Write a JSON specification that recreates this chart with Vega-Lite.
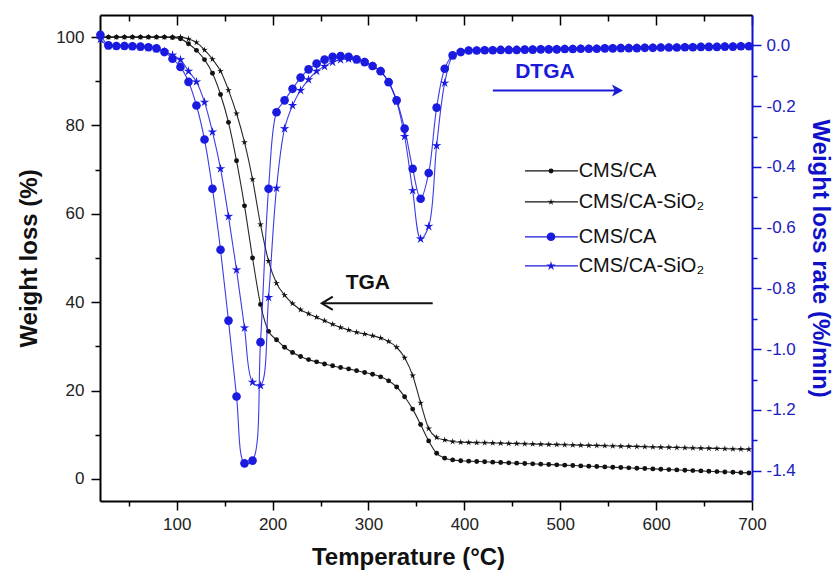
{
  "$schema": "https://vega.github.io/schema/vega-lite/v6.json",
  "width": 652,
  "height": 486,
  "autosize": {"type": "none"},
  "padding": {"left": 100, "top": 15, "right": 85, "bottom": 72},
  "background": "white",
  "config": {
    "font": "Liberation Sans",
    "view": {"stroke": null},
    "axis": {"labelFont": "Liberation Sans", "titleFont": "Liberation Sans", "grid": false, "labelOverlap": false, "labelFlush": false}
  },
  "datasets": {
    "tga": [
      {"k":"TGA|CMS/CA","T":20.4,"v":100},{"k":"TGA|CMS/CA","T":28.8,"v":100},{"k":"TGA|CMS/CA","T":37.1,"v":100},{"k":"TGA|CMS/CA","T":45.5,"v":100},{"k":"TGA|CMS/CA","T":53.8,"v":100},{"k":"TGA|CMS/CA","T":62.2,"v":100},{"k":"TGA|CMS/CA","T":70.5,"v":100},{"k":"TGA|CMS/CA","T":78.9,"v":100},{"k":"TGA|CMS/CA","T":87.2,"v":100},{"k":"TGA|CMS/CA","T":95.6,"v":99.9},
      {"k":"TGA|CMS/CA","T":103.9,"v":99.6},{"k":"TGA|CMS/CA","T":112.3,"v":98.5},{"k":"TGA|CMS/CA","T":120.6,"v":97.0},{"k":"TGA|CMS/CA","T":129,"v":94.9},{"k":"TGA|CMS/CA","T":137.3,"v":91.8},{"k":"TGA|CMS/CA","T":145.7,"v":87.0},{"k":"TGA|CMS/CA","T":154,"v":80.7},{"k":"TGA|CMS/CA","T":162.4,"v":72.0},{"k":"TGA|CMS/CA","T":170.7,"v":61.8},{"k":"TGA|CMS/CA","T":179.1,"v":50.0},
      {"k":"TGA|CMS/CA","T":187.4,"v":39.5},{"k":"TGA|CMS/CA","T":195.8,"v":33.4},{"k":"TGA|CMS/CA","T":204.1,"v":31.5},{"k":"TGA|CMS/CA","T":212.5,"v":29.8},{"k":"TGA|CMS/CA","T":220.8,"v":28.6},{"k":"TGA|CMS/CA","T":229.2,"v":27.7},{"k":"TGA|CMS/CA","T":237.5,"v":27.0},{"k":"TGA|CMS/CA","T":245.9,"v":26.5},{"k":"TGA|CMS/CA","T":254.2,"v":26.0},{"k":"TGA|CMS/CA","T":262.6,"v":25.6},
      {"k":"TGA|CMS/CA","T":270.9,"v":25.2},{"k":"TGA|CMS/CA","T":279.3,"v":24.9},{"k":"TGA|CMS/CA","T":287.6,"v":24.5},{"k":"TGA|CMS/CA","T":296,"v":24.1},{"k":"TGA|CMS/CA","T":304.3,"v":23.7},{"k":"TGA|CMS/CA","T":312.7,"v":23.1},{"k":"TGA|CMS/CA","T":321,"v":22.2},{"k":"TGA|CMS/CA","T":329.4,"v":20.8},{"k":"TGA|CMS/CA","T":337.7,"v":18.6},{"k":"TGA|CMS/CA","T":346.1,"v":15.8},
      {"k":"TGA|CMS/CA","T":354.4,"v":12.3},{"k":"TGA|CMS/CA","T":362.8,"v":8.6},{"k":"TGA|CMS/CA","T":371.1,"v":5.8},{"k":"TGA|CMS/CA","T":379.5,"v":4.7},{"k":"TGA|CMS/CA","T":387.8,"v":4.3},{"k":"TGA|CMS/CA","T":396.2,"v":4.1},{"k":"TGA|CMS/CA","T":404.5,"v":4.02},{"k":"TGA|CMS/CA","T":412.9,"v":3.95},{"k":"TGA|CMS/CA","T":421.2,"v":3.87},{"k":"TGA|CMS/CA","T":429.6,"v":3.79},
      {"k":"TGA|CMS/CA","T":437.9,"v":3.72},{"k":"TGA|CMS/CA","T":446.3,"v":3.64},{"k":"TGA|CMS/CA","T":454.6,"v":3.57},{"k":"TGA|CMS/CA","T":463,"v":3.49},{"k":"TGA|CMS/CA","T":471.3,"v":3.41},{"k":"TGA|CMS/CA","T":479.7,"v":3.34},{"k":"TGA|CMS/CA","T":488,"v":3.26},{"k":"TGA|CMS/CA","T":496.4,"v":3.18},{"k":"TGA|CMS/CA","T":504.7,"v":3.11},{"k":"TGA|CMS/CA","T":513.1,"v":3.03},
      {"k":"TGA|CMS/CA","T":521.4,"v":2.95},{"k":"TGA|CMS/CA","T":529.8,"v":2.88},{"k":"TGA|CMS/CA","T":538.1,"v":2.80},{"k":"TGA|CMS/CA","T":546.5,"v":2.72},{"k":"TGA|CMS/CA","T":554.8,"v":2.65},{"k":"TGA|CMS/CA","T":563.2,"v":2.57},{"k":"TGA|CMS/CA","T":571.5,"v":2.50},{"k":"TGA|CMS/CA","T":579.9,"v":2.42},{"k":"TGA|CMS/CA","T":588.2,"v":2.34},{"k":"TGA|CMS/CA","T":596.6,"v":2.27},
      {"k":"TGA|CMS/CA","T":604.9,"v":2.19},{"k":"TGA|CMS/CA","T":613.3,"v":2.11},{"k":"TGA|CMS/CA","T":621.6,"v":2.04},{"k":"TGA|CMS/CA","T":630,"v":1.96},{"k":"TGA|CMS/CA","T":638.3,"v":1.88},{"k":"TGA|CMS/CA","T":646.7,"v":1.81},{"k":"TGA|CMS/CA","T":655,"v":1.73},{"k":"TGA|CMS/CA","T":663.4,"v":1.65},{"k":"TGA|CMS/CA","T":671.7,"v":1.58},{"k":"TGA|CMS/CA","T":680.1,"v":1.50},
      {"k":"TGA|CMS/CA","T":688.4,"v":1.42},{"k":"TGA|CMS/CA","T":696.8,"v":1.35},
      {"k":"TGA|CMS/CA-SiO₂","T":20.4,"v":100},{"k":"TGA|CMS/CA-SiO₂","T":28.8,"v":100},{"k":"TGA|CMS/CA-SiO₂","T":37.1,"v":100},{"k":"TGA|CMS/CA-SiO₂","T":45.5,"v":100},{"k":"TGA|CMS/CA-SiO₂","T":53.8,"v":100},{"k":"TGA|CMS/CA-SiO₂","T":62.2,"v":100},{"k":"TGA|CMS/CA-SiO₂","T":70.5,"v":100},{"k":"TGA|CMS/CA-SiO₂","T":78.9,"v":100},{"k":"TGA|CMS/CA-SiO₂","T":87.2,"v":100},{"k":"TGA|CMS/CA-SiO₂","T":95.6,"v":100},
      {"k":"TGA|CMS/CA-SiO₂","T":103.9,"v":100},{"k":"TGA|CMS/CA-SiO₂","T":112.3,"v":99.6},{"k":"TGA|CMS/CA-SiO₂","T":120.6,"v":98.8},{"k":"TGA|CMS/CA-SiO₂","T":129,"v":97.1},{"k":"TGA|CMS/CA-SiO₂","T":137.3,"v":95.0},{"k":"TGA|CMS/CA-SiO₂","T":145.7,"v":92.3},{"k":"TGA|CMS/CA-SiO₂","T":154,"v":88.0},{"k":"TGA|CMS/CA-SiO₂","T":162.4,"v":82.7},{"k":"TGA|CMS/CA-SiO₂","T":170.7,"v":76.2},{"k":"TGA|CMS/CA-SiO₂","T":179.1,"v":67.8},
      {"k":"TGA|CMS/CA-SiO₂","T":187.4,"v":57.6},{"k":"TGA|CMS/CA-SiO₂","T":195.8,"v":49.3},{"k":"TGA|CMS/CA-SiO₂","T":204.1,"v":44.3},{"k":"TGA|CMS/CA-SiO₂","T":212.5,"v":41.6},{"k":"TGA|CMS/CA-SiO₂","T":220.8,"v":39.7},{"k":"TGA|CMS/CA-SiO₂","T":229.2,"v":38.3},{"k":"TGA|CMS/CA-SiO₂","T":237.5,"v":37.4},{"k":"TGA|CMS/CA-SiO₂","T":245.9,"v":36.6},{"k":"TGA|CMS/CA-SiO₂","T":254.2,"v":35.8},{"k":"TGA|CMS/CA-SiO₂","T":262.6,"v":35.0},
      {"k":"TGA|CMS/CA-SiO₂","T":270.9,"v":34.3},{"k":"TGA|CMS/CA-SiO₂","T":279.3,"v":33.7},{"k":"TGA|CMS/CA-SiO₂","T":287.6,"v":33.2},{"k":"TGA|CMS/CA-SiO₂","T":296,"v":32.8},{"k":"TGA|CMS/CA-SiO₂","T":304.3,"v":32.4},{"k":"TGA|CMS/CA-SiO₂","T":312.7,"v":31.9},{"k":"TGA|CMS/CA-SiO₂","T":321,"v":31.1},{"k":"TGA|CMS/CA-SiO₂","T":329.4,"v":29.8},{"k":"TGA|CMS/CA-SiO₂","T":337.7,"v":27.4},{"k":"TGA|CMS/CA-SiO₂","T":346.1,"v":23.4},
      {"k":"TGA|CMS/CA-SiO₂","T":354.4,"v":17.2},{"k":"TGA|CMS/CA-SiO₂","T":362.8,"v":11.4},{"k":"TGA|CMS/CA-SiO₂","T":371.1,"v":9.4},{"k":"TGA|CMS/CA-SiO₂","T":379.5,"v":8.8},{"k":"TGA|CMS/CA-SiO₂","T":387.8,"v":8.45},{"k":"TGA|CMS/CA-SiO₂","T":396.2,"v":8.3},{"k":"TGA|CMS/CA-SiO₂","T":404.5,"v":8.26},{"k":"TGA|CMS/CA-SiO₂","T":412.9,"v":8.21},{"k":"TGA|CMS/CA-SiO₂","T":421.2,"v":8.17},{"k":"TGA|CMS/CA-SiO₂","T":429.6,"v":8.12},
      {"k":"TGA|CMS/CA-SiO₂","T":437.9,"v":8.08},{"k":"TGA|CMS/CA-SiO₂","T":446.3,"v":8.03},{"k":"TGA|CMS/CA-SiO₂","T":454.6,"v":7.99},{"k":"TGA|CMS/CA-SiO₂","T":463,"v":7.94},{"k":"TGA|CMS/CA-SiO₂","T":471.3,"v":7.90},{"k":"TGA|CMS/CA-SiO₂","T":479.7,"v":7.86},{"k":"TGA|CMS/CA-SiO₂","T":488,"v":7.81},{"k":"TGA|CMS/CA-SiO₂","T":496.4,"v":7.77},{"k":"TGA|CMS/CA-SiO₂","T":504.7,"v":7.72},{"k":"TGA|CMS/CA-SiO₂","T":513.1,"v":7.68},
      {"k":"TGA|CMS/CA-SiO₂","T":521.4,"v":7.63},{"k":"TGA|CMS/CA-SiO₂","T":529.8,"v":7.59},{"k":"TGA|CMS/CA-SiO₂","T":538.1,"v":7.55},{"k":"TGA|CMS/CA-SiO₂","T":546.5,"v":7.50},{"k":"TGA|CMS/CA-SiO₂","T":554.8,"v":7.46},{"k":"TGA|CMS/CA-SiO₂","T":563.2,"v":7.41},{"k":"TGA|CMS/CA-SiO₂","T":571.5,"v":7.37},{"k":"TGA|CMS/CA-SiO₂","T":579.9,"v":7.32},{"k":"TGA|CMS/CA-SiO₂","T":588.2,"v":7.28},{"k":"TGA|CMS/CA-SiO₂","T":596.6,"v":7.23},
      {"k":"TGA|CMS/CA-SiO₂","T":604.9,"v":7.19},{"k":"TGA|CMS/CA-SiO₂","T":613.3,"v":7.15},{"k":"TGA|CMS/CA-SiO₂","T":621.6,"v":7.10},{"k":"TGA|CMS/CA-SiO₂","T":630,"v":7.06},{"k":"TGA|CMS/CA-SiO₂","T":638.3,"v":7.01},{"k":"TGA|CMS/CA-SiO₂","T":646.7,"v":6.97},{"k":"TGA|CMS/CA-SiO₂","T":655,"v":6.92},{"k":"TGA|CMS/CA-SiO₂","T":663.4,"v":6.88},{"k":"TGA|CMS/CA-SiO₂","T":671.7,"v":6.83},{"k":"TGA|CMS/CA-SiO₂","T":680.1,"v":6.79},
      {"k":"TGA|CMS/CA-SiO₂","T":688.4,"v":6.75},{"k":"TGA|CMS/CA-SiO₂","T":696.8,"v":6.70}
    ],
    "dtga": [
      {"k":"DTGA|CMS/CA","T":20.4,"v":0.035},{"k":"DTGA|CMS/CA","T":28.8,"v":0.0},{"k":"DTGA|CMS/CA","T":37.1,"v":-0.002},{"k":"DTGA|CMS/CA","T":45.5,"v":-0.002},{"k":"DTGA|CMS/CA","T":53.8,"v":-0.003},{"k":"DTGA|CMS/CA","T":62.2,"v":-0.004},{"k":"DTGA|CMS/CA","T":70.5,"v":-0.006},{"k":"DTGA|CMS/CA","T":78.9,"v":-0.01},{"k":"DTGA|CMS/CA","T":87.2,"v":-0.022},{"k":"DTGA|CMS/CA","T":95.6,"v":-0.044},
      {"k":"DTGA|CMS/CA","T":103.9,"v":-0.071},{"k":"DTGA|CMS/CA","T":112.3,"v":-0.12},{"k":"DTGA|CMS/CA","T":120.6,"v":-0.198},{"k":"DTGA|CMS/CA","T":129,"v":-0.31},{"k":"DTGA|CMS/CA","T":137.3,"v":-0.472},{"k":"DTGA|CMS/CA","T":145.7,"v":-0.673},{"k":"DTGA|CMS/CA","T":154,"v":-0.906},{"k":"DTGA|CMS/CA","T":162.4,"v":-1.156},{"k":"DTGA|CMS/CA","T":170.7,"v":-1.376},{"k":"DTGA|CMS/CA","T":179.1,"v":-1.367},
      {"k":"DTGA|CMS/CA","T":187.4,"v":-0.977},{"k":"DTGA|CMS/CA","T":195.8,"v":-0.472},{"k":"DTGA|CMS/CA","T":204.1,"v":-0.22},{"k":"DTGA|CMS/CA","T":212.5,"v":-0.181},{"k":"DTGA|CMS/CA","T":220.8,"v":-0.143},{"k":"DTGA|CMS/CA","T":229.2,"v":-0.106},{"k":"DTGA|CMS/CA","T":237.5,"v":-0.079},{"k":"DTGA|CMS/CA","T":245.9,"v":-0.06},{"k":"DTGA|CMS/CA","T":254.2,"v":-0.047},{"k":"DTGA|CMS/CA","T":262.6,"v":-0.038},
      {"k":"DTGA|CMS/CA","T":270.9,"v":-0.035},{"k":"DTGA|CMS/CA","T":279.3,"v":-0.038},{"k":"DTGA|CMS/CA","T":287.6,"v":-0.046},{"k":"DTGA|CMS/CA","T":296,"v":-0.055},{"k":"DTGA|CMS/CA","T":304.3,"v":-0.068},{"k":"DTGA|CMS/CA","T":312.7,"v":-0.085},{"k":"DTGA|CMS/CA","T":321,"v":-0.121},{"k":"DTGA|CMS/CA","T":329.4,"v":-0.181},{"k":"DTGA|CMS/CA","T":337.7,"v":-0.274},{"k":"DTGA|CMS/CA","T":346.1,"v":-0.406},
      {"k":"DTGA|CMS/CA","T":354.4,"v":-0.505},{"k":"DTGA|CMS/CA","T":362.8,"v":-0.42},{"k":"DTGA|CMS/CA","T":371.1,"v":-0.205},{"k":"DTGA|CMS/CA","T":379.5,"v":-0.077},{"k":"DTGA|CMS/CA","T":387.8,"v":-0.033},{"k":"DTGA|CMS/CA","T":396.2,"v":-0.022},{"k":"DTGA|CMS/CA","T":404.5,"v":-0.017},{"k":"DTGA|CMS/CA","T":412.9,"v":-0.017},{"k":"DTGA|CMS/CA","T":421.2,"v":-0.016},{"k":"DTGA|CMS/CA","T":429.6,"v":-0.016},
      {"k":"DTGA|CMS/CA","T":437.9,"v":-0.015},{"k":"DTGA|CMS/CA","T":446.3,"v":-0.015},{"k":"DTGA|CMS/CA","T":454.6,"v":-0.015},{"k":"DTGA|CMS/CA","T":463,"v":-0.014},{"k":"DTGA|CMS/CA","T":471.3,"v":-0.014},{"k":"DTGA|CMS/CA","T":479.7,"v":-0.013},{"k":"DTGA|CMS/CA","T":488,"v":-0.013},{"k":"DTGA|CMS/CA","T":496.4,"v":-0.013},{"k":"DTGA|CMS/CA","T":504.7,"v":-0.012},{"k":"DTGA|CMS/CA","T":513.1,"v":-0.012},
      {"k":"DTGA|CMS/CA","T":521.4,"v":-0.011},{"k":"DTGA|CMS/CA","T":529.8,"v":-0.011},{"k":"DTGA|CMS/CA","T":538.1,"v":-0.011},{"k":"DTGA|CMS/CA","T":546.5,"v":-0.010},{"k":"DTGA|CMS/CA","T":554.8,"v":-0.010},{"k":"DTGA|CMS/CA","T":563.2,"v":-0.009},{"k":"DTGA|CMS/CA","T":571.5,"v":-0.009},{"k":"DTGA|CMS/CA","T":579.9,"v":-0.009},{"k":"DTGA|CMS/CA","T":588.2,"v":-0.008},{"k":"DTGA|CMS/CA","T":596.6,"v":-0.008},
      {"k":"DTGA|CMS/CA","T":604.9,"v":-0.007},{"k":"DTGA|CMS/CA","T":613.3,"v":-0.007},{"k":"DTGA|CMS/CA","T":621.6,"v":-0.007},{"k":"DTGA|CMS/CA","T":630,"v":-0.006},{"k":"DTGA|CMS/CA","T":638.3,"v":-0.006},{"k":"DTGA|CMS/CA","T":646.7,"v":-0.005},{"k":"DTGA|CMS/CA","T":655,"v":-0.005},{"k":"DTGA|CMS/CA","T":663.4,"v":-0.005},{"k":"DTGA|CMS/CA","T":671.7,"v":-0.004},{"k":"DTGA|CMS/CA","T":680.1,"v":-0.004},
      {"k":"DTGA|CMS/CA","T":688.4,"v":-0.003},{"k":"DTGA|CMS/CA","T":696.8,"v":-0.003},
      {"k":"DTGA|CMS/CA-SiO₂","T":20.4,"v":0.02},{"k":"DTGA|CMS/CA-SiO₂","T":28.8,"v":-0.002},{"k":"DTGA|CMS/CA-SiO₂","T":37.1,"v":-0.003},{"k":"DTGA|CMS/CA-SiO₂","T":45.5,"v":-0.003},{"k":"DTGA|CMS/CA-SiO₂","T":53.8,"v":-0.004},{"k":"DTGA|CMS/CA-SiO₂","T":62.2,"v":-0.005},{"k":"DTGA|CMS/CA-SiO₂","T":70.5,"v":-0.008},{"k":"DTGA|CMS/CA-SiO₂","T":78.9,"v":-0.012},{"k":"DTGA|CMS/CA-SiO₂","T":87.2,"v":-0.02},{"k":"DTGA|CMS/CA-SiO₂","T":95.6,"v":-0.032},
      {"k":"DTGA|CMS/CA-SiO₂","T":103.9,"v":-0.047},{"k":"DTGA|CMS/CA-SiO₂","T":112.3,"v":-0.085},{"k":"DTGA|CMS/CA-SiO₂","T":120.6,"v":-0.12},{"k":"DTGA|CMS/CA-SiO₂","T":129,"v":-0.187},{"k":"DTGA|CMS/CA-SiO₂","T":137.3,"v":-0.285},{"k":"DTGA|CMS/CA-SiO₂","T":145.7,"v":-0.406},{"k":"DTGA|CMS/CA-SiO₂","T":154,"v":-0.563},{"k":"DTGA|CMS/CA-SiO₂","T":162.4,"v":-0.739},{"k":"DTGA|CMS/CA-SiO₂","T":170.7,"v":-0.93},{"k":"DTGA|CMS/CA-SiO₂","T":179.1,"v":-1.109},
      {"k":"DTGA|CMS/CA-SiO₂","T":187.4,"v":-1.12},{"k":"DTGA|CMS/CA-SiO₂","T":195.8,"v":-0.83},{"k":"DTGA|CMS/CA-SiO₂","T":204.1,"v":-0.47},{"k":"DTGA|CMS/CA-SiO₂","T":212.5,"v":-0.274},{"k":"DTGA|CMS/CA-SiO₂","T":220.8,"v":-0.198},{"k":"DTGA|CMS/CA-SiO₂","T":229.2,"v":-0.148},{"k":"DTGA|CMS/CA-SiO₂","T":237.5,"v":-0.113},{"k":"DTGA|CMS/CA-SiO₂","T":245.9,"v":-0.085},{"k":"DTGA|CMS/CA-SiO₂","T":254.2,"v":-0.069},{"k":"DTGA|CMS/CA-SiO₂","T":262.6,"v":-0.055},
      {"k":"DTGA|CMS/CA-SiO₂","T":270.9,"v":-0.047},{"k":"DTGA|CMS/CA-SiO₂","T":279.3,"v":-0.045},{"k":"DTGA|CMS/CA-SiO₂","T":287.6,"v":-0.048},{"k":"DTGA|CMS/CA-SiO₂","T":296,"v":-0.055},{"k":"DTGA|CMS/CA-SiO₂","T":304.3,"v":-0.068},{"k":"DTGA|CMS/CA-SiO₂","T":312.7,"v":-0.086},{"k":"DTGA|CMS/CA-SiO₂","T":321,"v":-0.122},{"k":"DTGA|CMS/CA-SiO₂","T":329.4,"v":-0.185},{"k":"DTGA|CMS/CA-SiO₂","T":337.7,"v":-0.30},{"k":"DTGA|CMS/CA-SiO₂","T":346.1,"v":-0.478},
      {"k":"DTGA|CMS/CA-SiO₂","T":354.4,"v":-0.637},{"k":"DTGA|CMS/CA-SiO₂","T":362.8,"v":-0.596},{"k":"DTGA|CMS/CA-SiO₂","T":371.1,"v":-0.33},{"k":"DTGA|CMS/CA-SiO₂","T":379.5,"v":-0.124},{"k":"DTGA|CMS/CA-SiO₂","T":387.8,"v":-0.035},{"k":"DTGA|CMS/CA-SiO₂","T":396.2,"v":-0.022},{"k":"DTGA|CMS/CA-SiO₂","T":404.5,"v":-0.017},{"k":"DTGA|CMS/CA-SiO₂","T":412.9,"v":-0.017},{"k":"DTGA|CMS/CA-SiO₂","T":421.2,"v":-0.016},{"k":"DTGA|CMS/CA-SiO₂","T":429.6,"v":-0.016},
      {"k":"DTGA|CMS/CA-SiO₂","T":437.9,"v":-0.015},{"k":"DTGA|CMS/CA-SiO₂","T":446.3,"v":-0.015},{"k":"DTGA|CMS/CA-SiO₂","T":454.6,"v":-0.015},{"k":"DTGA|CMS/CA-SiO₂","T":463,"v":-0.014},{"k":"DTGA|CMS/CA-SiO₂","T":471.3,"v":-0.014},{"k":"DTGA|CMS/CA-SiO₂","T":479.7,"v":-0.013},{"k":"DTGA|CMS/CA-SiO₂","T":488,"v":-0.013},{"k":"DTGA|CMS/CA-SiO₂","T":496.4,"v":-0.013},{"k":"DTGA|CMS/CA-SiO₂","T":504.7,"v":-0.012},{"k":"DTGA|CMS/CA-SiO₂","T":513.1,"v":-0.012},
      {"k":"DTGA|CMS/CA-SiO₂","T":521.4,"v":-0.011},{"k":"DTGA|CMS/CA-SiO₂","T":529.8,"v":-0.011},{"k":"DTGA|CMS/CA-SiO₂","T":538.1,"v":-0.011},{"k":"DTGA|CMS/CA-SiO₂","T":546.5,"v":-0.010},{"k":"DTGA|CMS/CA-SiO₂","T":554.8,"v":-0.010},{"k":"DTGA|CMS/CA-SiO₂","T":563.2,"v":-0.009},{"k":"DTGA|CMS/CA-SiO₂","T":571.5,"v":-0.009},{"k":"DTGA|CMS/CA-SiO₂","T":579.9,"v":-0.009},{"k":"DTGA|CMS/CA-SiO₂","T":588.2,"v":-0.008},{"k":"DTGA|CMS/CA-SiO₂","T":596.6,"v":-0.008},
      {"k":"DTGA|CMS/CA-SiO₂","T":604.9,"v":-0.007},{"k":"DTGA|CMS/CA-SiO₂","T":613.3,"v":-0.007},{"k":"DTGA|CMS/CA-SiO₂","T":621.6,"v":-0.007},{"k":"DTGA|CMS/CA-SiO₂","T":630,"v":-0.006},{"k":"DTGA|CMS/CA-SiO₂","T":638.3,"v":-0.006},{"k":"DTGA|CMS/CA-SiO₂","T":646.7,"v":-0.005},{"k":"DTGA|CMS/CA-SiO₂","T":655,"v":-0.005},{"k":"DTGA|CMS/CA-SiO₂","T":663.4,"v":-0.005},{"k":"DTGA|CMS/CA-SiO₂","T":671.7,"v":-0.004},{"k":"DTGA|CMS/CA-SiO₂","T":680.1,"v":-0.004},
      {"k":"DTGA|CMS/CA-SiO₂","T":688.4,"v":-0.003},{"k":"DTGA|CMS/CA-SiO₂","T":696.8,"v":-0.003}
    ],
    "legendLines": [
      {"k":"TGA|CMS/CA","T":463.2,"T2":518.5,"v":69.7},
      {"k":"TGA|CMS/CA-SiO₂","T":463.2,"T2":518.5,"v":62.7},
      {"k":"DTGA|CMS/CA","T":463.2,"T2":518.5,"v":54.8},
      {"k":"DTGA|CMS/CA-SiO₂","T":463.2,"T2":518.5,"v":48.2}
    ],
    "legendMarks": [
      {"k":"TGA|CMS/CA","T":490.4,"v":69.7},
      {"k":"TGA|CMS/CA-SiO₂","T":490.4,"v":62.7},
      {"k":"DTGA|CMS/CA","T":490.4,"v":54.8},
      {"k":"DTGA|CMS/CA-SiO₂","T":490.4,"v":48.2}
    ],
    "legendText": [
      {"label":"CMS/CA","T":519.2,"v":69.7},
      {"label":"CMS/CA-SiO₂","T":519.2,"v":62.7},
      {"label":"CMS/CA","T":519.2,"v":54.8},
      {"label":"CMS/CA-SiO₂","T":519.2,"v":48.2}
    ]
  },
  "layer": [
    {
      "encoding": {
        "x": {"field": "T", "type": "quantitative",
          "scale": {"domain": [20, 700], "nice": false, "zero": false},
          "axis": {"orient": "bottom", "values": [50,100,150,200,250,300,350,400,450,500,550,600,650,700],
            "labelExpr": "datum.value % 100 == 0 ? datum.label : ''",
            "tickSize": {"condition": {"test": "datum.value % 100 == 0", "value": 9}, "value": 5},
            "tickColor": "black", "tickWidth": 1.5, "domainColor": "black", "domainWidth": 2,
            "labelFontSize": 17, "labelColor": "#222222", "labelPadding": 6,
            "title": "Temperature (°C)", "titleFontSize": 24, "titleFontWeight": "bold", "titleColor": "#111111", "titlePadding": 13, "titleX": 308}},
        "y": {"field": "v", "type": "quantitative",
          "scale": {"domain": [-5, 105], "nice": false, "zero": false},
          "axis": {"orient": "left", "values": [0,10,20,30,40,50,60,70,80,90,100],
            "labelExpr": "datum.value % 20 == 0 ? datum.label : ''",
            "tickSize": {"condition": {"test": "datum.value % 20 == 0", "value": 9}, "value": 5},
            "tickColor": "black", "tickWidth": 1.5, "domainColor": "black", "domainWidth": 2,
            "labelFontSize": 17, "labelColor": "#222222", "labelPadding": 7,
            "title": "Weight loss (%)", "titleFontSize": 24, "titleFontWeight": "bold", "titleColor": "#111111", "titlePadding": 14}}
      },
      "layer": [
        {
          "data": {"name": "tga"},
          "mark": {"type": "line", "interpolate": "monotone", "strokeWidth": 1.1, "strokeOpacity": 0.9},
          "encoding": {
            "color": {"field": "k", "type": "nominal",
              "scale": {"domain": ["TGA|CMS/CA", "TGA|CMS/CA-SiO₂", "DTGA|CMS/CA", "DTGA|CMS/CA-SiO₂"], "range": ["#111111", "#111111", "#1a1ae0", "#1a1ae0"]},
              "legend": null}
          }
        },
        {
          "data": {"name": "tga"},
          "transform": [{"calculate": "datum.k", "as": "m"}],
          "mark": {"type": "point", "filled": true, "opacity": 1},
          "encoding": {
            "color": {"field": "k", "type": "nominal", "legend": null},
            "shape": {"field": "m", "type": "nominal",
              "scale": {"domain": ["TGA|CMS/CA", "TGA|CMS/CA-SiO₂", "DTGA|CMS/CA", "DTGA|CMS/CA-SiO₂"],
                "range": ["circle", "M0,-1L0.2,-0.28L0.951,-0.309L0.33,0.11L0.588,0.809L0,0.36L-0.588,0.809L-0.33,0.11L-0.951,-0.309L-0.2,-0.28Z", "circle", "M0,-1L0.2,-0.28L0.951,-0.309L0.33,0.11L0.588,0.809L0,0.36L-0.588,0.809L-0.33,0.11L-0.951,-0.309L-0.2,-0.28Z"]},
              "legend": null},
            "size": {"field": "m", "type": "ordinal",
              "scale": {"domain": ["TGA|CMS/CA", "TGA|CMS/CA-SiO₂", "DTGA|CMS/CA", "DTGA|CMS/CA-SiO₂"], "range": [24, 100, 34, 110]},
              "legend": null}
          }
        },
        {
          "data": {"name": "legendLines"},
          "mark": {"type": "rule", "strokeWidth": 1.2},
          "encoding": {"x2": {"field": "T2"}, "color": {"field": "k", "type": "nominal", "legend": null}}
        },
        {
          "data": {"name": "legendMarks"},
          "transform": [{"calculate": "datum.k", "as": "m"}],
          "mark": {"type": "point", "filled": true, "opacity": 1},
          "encoding": {
            "color": {"field": "k", "type": "nominal", "legend": null},
            "shape": {"field": "m", "type": "nominal", "legend": null},
            "size": {"field": "m", "type": "ordinal", "legend": null}
          }
        },
        {
          "data": {"name": "legendText"},
          "mark": {"type": "text", "font": "Liberation Sans", "fontSize": 20, "color": "#111111", "align": "left", "baseline": "middle"},
          "encoding": {"text": {"field": "label"}}
        },
        {
          "data": {"values": [{"T": 484, "v": 92.1, "label": "DTGA"}]},
          "mark": {"type": "text", "font": "Liberation Sans", "fontSize": 21, "fontWeight": "bold", "color": "#1a1ad8", "align": "center", "baseline": "middle"},
          "encoding": {"text": {"field": "label"}}
        },
        {
          "data": {"values": [{"T": 299.3, "v": 44.3, "label": "TGA"}]},
          "mark": {"type": "text", "font": "Liberation Sans", "fontSize": 21, "fontWeight": "bold", "color": "#111111", "align": "center", "baseline": "middle"},
          "encoding": {"text": {"field": "label"}}
        },
        {
          "data": {"values": [{"T": 429.7, "T2": 563, "v": 87.9}]},
          "mark": {"type": "rule", "color": "#1a1ad8", "strokeWidth": 2},
          "encoding": {"x2": {"field": "T2"}}
        },
        {
          "data": {"values": [{"T": 565.4, "v": 87.9}]},
          "mark": {"type": "point", "shape": "M-1,-0.55L0,0L-1,0.55L-0.75,0Z", "size": 484, "filled": true, "color": "#1a1ad8", "opacity": 1}
        },
        {
          "data": {"values": [{"T": 252, "T2": 367, "v": 39.75}]},
          "mark": {"type": "rule", "color": "#111111", "strokeWidth": 2},
          "encoding": {"x2": {"field": "T2"}}
        },
        {
          "data": {"values": [{"T": 251.3, "v": 39.75}]},
          "mark": {"type": "point", "shape": "M1,-0.6L0,0L1,0.6", "size": 484, "filled": false, "stroke": "#111111", "strokeWidth": 2, "opacity": 1}
        }
      ]
    },
    {
      "data": {"name": "dtga"},
      "encoding": {
        "x": {"field": "T", "type": "quantitative",
          "scale": {"domain": [20, 700], "nice": false, "zero": false},
          "axis": {"orient": "top", "values": [50,100,150,200,250,300,350,400,450,500,550,600,650,700],
            "labels": false, "title": null,
            "tickSize": {"condition": {"test": "datum.value % 100 == 0", "value": -10}, "value": -6},
            "tickColor": "black", "tickWidth": 1.5, "domainColor": "black", "domainWidth": 2}},
        "y": {"field": "v", "type": "quantitative",
          "scale": {"domain": [-1.5, 0.1], "nice": false, "zero": false},
          "axis": {"orient": "right", "values": [0,-0.1,-0.2,-0.3,-0.4,-0.5,-0.6,-0.7,-0.8,-0.9,-1.0,-1.1,-1.2,-1.3,-1.4],
            "labelExpr": "abs(round(datum.value*10)) % 2 == 0 ? replace(format(datum.value, '.1f'), '−', '-') : ''",
            "tickSize": {"condition": {"test": "abs(round(datum.value*10)) % 2 == 0", "value": 9}, "value": 5},
            "tickColor": "#1010d0", "tickWidth": 1.5, "domainColor": "#1010d0", "domainWidth": 2,
            "labelFontSize": 17, "labelColor": "#2020c0", "labelPadding": 5,
            "title": "Weight loss rate (%/min)", "titleFontSize": 24, "titleFontWeight": "bold", "titleColor": "#1010c8", "titlePadding": 12}}
      },
      "layer": [
        {
          "mark": {"type": "line", "interpolate": "catmull-rom", "strokeWidth": 1.1, "strokeOpacity": 0.85},
          "encoding": {"color": {"field": "k", "type": "nominal", "legend": null}}
        },
        {
          "transform": [{"calculate": "datum.k", "as": "m"}],
          "mark": {"type": "point", "filled": true, "opacity": 1},
          "encoding": {
            "color": {"field": "k", "type": "nominal", "legend": null},
            "shape": {"field": "m", "type": "nominal", "legend": null},
            "size": {"field": "m", "type": "ordinal", "legend": null}
          }
        }
      ]
    }
  ],
  "resolve": {"scale": {"y": "independent"}, "axis": {"x": "independent", "y": "independent"}}
}
